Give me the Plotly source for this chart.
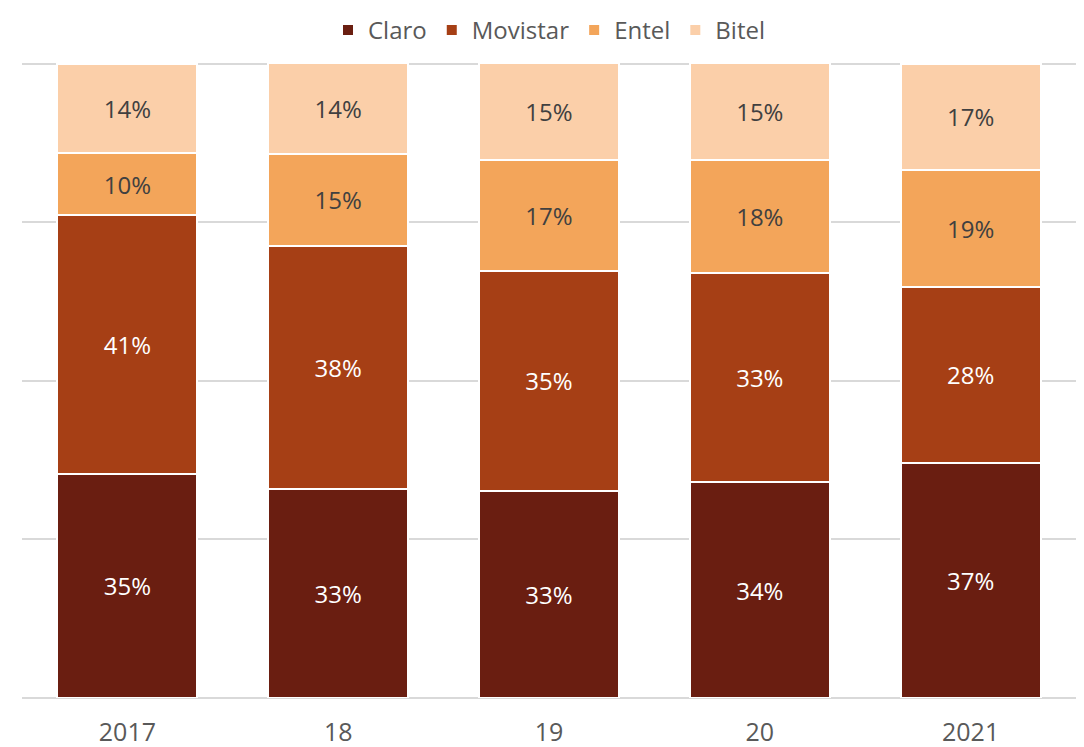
import plotly.graph_objects as go

years = ["2017", "18", "19", "20", "2021"]
claro = [35.4, 32.9, 32.7, 34.0, 37.1]
movistar = [40.7, 38.4, 34.7, 33.0, 27.7]
entel = [9.9, 14.5, 17.4, 17.8, 18.5]
bitel = [14.0, 14.3, 15.3, 15.3, 16.7]

series = [
    ("Claro", claro, "#6A1E11", "white"),
    ("Movistar", movistar, "#A63F15", "white"),
    ("Entel", entel, "#F3A55A", "#404040"),
    ("Bitel", bitel, "#FBCFA9", "#404040"),
]

FONT = "Open Sans"
fig = go.Figure()
for name, vals, color, tcolor in series:
    fig.add_trace(go.Bar(
        x=years, y=vals, name=name,
        marker=dict(color=color, line=dict(color="white", width=2)),
        texttemplate="%{y:.0f}%", textposition="inside", insidetextanchor="middle",
        textfont=dict(color=tcolor, size=24, family=FONT),
        constraintext="none",
    ))

fig.update_layout(
    barmode="stack",
    bargap=0.335,
    width=1084, height=747,
    margin=dict(l=14, r=16, t=54, b=57, autoexpand=False),
    plot_bgcolor="white", paper_bgcolor="white",
    font=dict(family=FONT, color="#595959"),
    legend=dict(orientation="h", x=0.5, xanchor="center", y=1.0, yanchor="top",
                yref="container", font=dict(size=24, color="#595959"),
                traceorder="normal", itemwidth=30, tracegroupgap=0,
                bgcolor="rgba(0,0,0,0)"),
    uniformtext=dict(minsize=8, mode="show"),
    xaxis=dict(tickfont=dict(size=25, color="#595959"), showline=False, ticks="",
               ticklabelstandoff=17),
    yaxis=dict(range=[0, 100.3], tickvals=[0, 25, 50, 75, 100], showticklabels=False,
               showgrid=True, gridcolor="#D9D9D9", gridwidth=2,
               zeroline=True, zerolinecolor="#D9D9D9", zerolinewidth=2),
)
fig.write_html("out.html")
